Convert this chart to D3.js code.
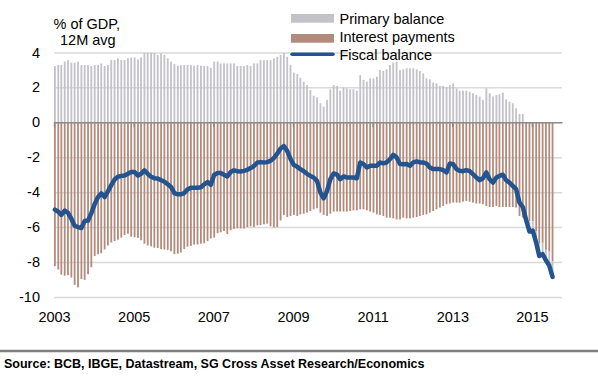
<!DOCTYPE html>
<html>
<head>
<meta charset="utf-8">
<script src="https://cdn.jsdelivr.net/npm/d3@7"></script>
<style>
  body { margin: 0; background: #fff; }
  svg text { font-family: "Liberation Sans", Arial, sans-serif; fill: #000; }
</style>
</head>
<body>
<div id="chart"></div>
<script>

// 12M rolling, % of GDP, monthly Jan 2003 .. Jul 2015
var primary = [
    3.22, 3.28, 3.28, 3.47, 3.56, 3.41, 3.41, 3.47, 3.28, 3.28, 3.28, 3.22,
    3.28, 3.28, 3.37, 3.22, 3.28, 3.56, 3.56, 3.66, 3.56, 3.56, 3.66, 3.71,
    3.71, 3.6, 3.71, 3.98, 3.98, 3.98, 3.98, 3.85, 3.94, 3.85, 3.66, 3.47,
    3.33, 3.24, 3.28, 3.28, 3.28, 3.28, 3.24, 3.28, 3.24, 3.22, 3.22, 3.12,
    3.47, 3.47, 3.37, 3.37, 3.37, 3.37, 3.37, 3.22, 3.22, 3.22, 3.28, 3.22,
    3.37, 3.37, 3.56, 3.56, 3.56, 3.56, 3.66, 3.75, 3.85, 3.98, 3.75, 3.28,
    2.84, 2.76, 2.55, 2.32, 2.13, 1.85, 1.52, 1.43, 1.09, 0.9, 1.28, 1.89,
    2.13, 2.08, 1.81, 2.0, 1.94, 1.89, 1.89, 1.81, 2.7, 2.42, 2.32, 2.51,
    2.51, 2.61, 2.99, 2.95, 3.03, 3.28, 3.41, 3.47, 2.99, 3.03, 3.09, 3.09,
    3.09, 3.03, 2.93, 2.8, 2.51, 2.46, 2.27, 2.23, 2.08, 2.08, 2.0, 2.13,
    2.23, 1.94, 1.81, 1.81, 1.81, 1.75, 1.66, 1.56, 1.47, 1.28, 1.94, 1.66,
    1.47, 1.56, 1.6, 1.7, 1.31, 1.18, 1.09, 0.8, 0.48, 0.48, -0.2, -0.6,
    -0.55, -0.65, -0.7, -0.65, -0.6, -0.8, -0.9
];

var interest = [
    -8.24, -8.43, -8.72, -8.78, -8.75, -8.88, -9.3, -9.45, -8.97, -9.02, -8.7, -8.3,
    -7.65, -7.55, -7.5, -7.28, -7.05, -6.88, -6.8, -6.72, -6.6, -6.45, -6.38, -6.55,
    -6.58, -6.62, -6.75, -6.95, -7.05, -7.1, -7.18, -7.2, -7.26, -7.28, -7.3, -7.38,
    -7.55, -7.52, -7.45, -7.25, -7.12, -7.08, -7.0, -6.99, -6.95, -6.92, -6.8, -6.65,
    -6.6, -6.35, -6.3, -6.22, -6.4, -6.18, -6.1, -6.07, -6.07, -6.08, -6.0, -5.96,
    -6.0, -5.9, -5.88, -5.84, -5.8, -5.95, -6.02, -6.0, -5.62, -5.3, -5.42, -5.36,
    -5.3, -5.36, -5.27, -5.23, -5.17, -5.08, -4.98, -4.92, -5.17, -5.3, -5.36, -5.23,
    -5.11, -5.11, -5.11, -5.11, -5.11, -5.08, -5.04, -5.04, -4.98, -4.98, -5.04, -5.11,
    -5.17, -5.27, -5.3, -5.36, -5.46, -5.46, -5.5, -5.56, -5.56, -5.46, -5.5, -5.5,
    -5.46, -5.42, -5.36, -5.3, -5.27, -5.17, -5.08, -4.98, -4.88, -4.79, -4.69, -4.65,
    -4.6, -4.6, -4.6, -4.54, -4.5, -4.54, -4.6, -4.65, -4.65, -4.69, -4.79, -4.85,
    -4.85, -4.79, -4.85, -4.85, -4.85, -4.85, -4.85, -4.88, -5.36, -5.46, -5.4, -5.65,
    -5.65, -6.25, -6.95, -6.9, -7.3, -7.4, -7.95
];

var fiscal = [
    -5.0, -5.12, -5.3, -5.05, -5.18, -5.52, -5.92, -6.0, -6.05, -5.65, -5.62, -5.2,
    -4.68, -4.28, -4.07, -4.28, -3.95, -3.6, -3.28, -3.12, -3.07, -3.05, -2.95, -2.85,
    -2.85, -3.05, -2.95, -2.75, -2.95, -3.12, -3.2, -3.22, -3.32, -3.4, -3.55, -3.7,
    -4.05, -4.12, -4.12, -4.05, -3.85, -3.75, -3.75, -3.75, -3.72, -3.55, -3.42, -3.58,
    -3.0, -2.9, -2.9, -3.0, -3.1, -2.85, -2.75, -2.8, -2.82, -2.78, -2.72, -2.62,
    -2.5, -2.3, -2.28, -2.3, -2.28, -2.2, -2.05, -1.8, -1.5, -1.36, -1.65, -2.1,
    -2.45, -2.55, -2.68, -2.8, -2.95, -3.07, -3.16, -3.35, -4.02, -4.35, -3.93, -3.26,
    -2.93, -3.0, -3.26, -3.1, -3.16, -3.16, -3.16, -3.2, -2.3, -2.39, -2.59, -2.49,
    -2.49, -2.49, -2.3, -2.35, -2.3, -2.11, -1.86, -2.01, -2.39, -2.4, -2.39, -2.49,
    -2.3, -2.24, -2.3, -2.3, -2.36, -2.59, -2.68, -2.68, -2.68, -2.74, -2.87, -2.36,
    -2.4, -2.68, -2.78, -2.8, -2.74, -2.8, -2.97, -3.16, -3.31, -3.2, -2.87, -3.26,
    -3.45, -3.16, -3.07, -3.0, -3.31, -3.45, -3.64, -3.83, -4.6, -4.85, -5.6, -6.25,
    -6.2, -6.9, -7.65, -7.55, -7.9, -8.2, -8.85
];

var months = d3.timeMonth.range(new Date(2003, 0, 1), new Date(2015, 7, 1));
var yTicks = [-10, -8, -6, -4, -2, 0, 2, 4];
var yearTicks = [2003, 2005, 2007, 2009, 2011, 2013, 2015];
var legendLabels = ["Primary balance", "Interest payments", "Fiscal balance"];
var source = "Source: BCB, IBGE, Datastream, SG Cross Asset Research/Economics";

var data = months.map(function (d, i) {
    return { date: d, primary: primary[i], interest: interest[i], fiscal: fiscal[i] };
});
var yearDates = yearTicks.map(yr => new Date(yr, 0, 1));

var W = 598, H = 380;
var plotL = 54, plotR = 562, plotT = 52.4, plotB = 297;

var greyCol = "#c2c2c8", brownCol = "#b28b7c", blueCol = "#24548f";

var svg = d3.select("#chart").append("svg")
    .attr("width", W)
    .attr("height", H);

var x = d3.scaleTime()
    .domain([new Date(2003, 0, 1), new Date(2015, 9, 4)])
    .range([plotL, plotR]);

var y = d3.scaleLinear()
    .domain([-10, 4])
    .range([plotB, plotT]);

// gridlines + y labels
var yAxis = svg.append("g")
    .attr("transform", `translate(${plotL},0)`)
    .call(d3.axisLeft(y).tickValues(yTicks).tickSize(-(plotR - plotL)).tickPadding(14).tickFormat(d => String(d)));
yAxis.select(".domain").remove();
yAxis.selectAll("line")
    .attr("stroke", "#d9d9d9")
    .attr("stroke-width", 1.5);
yAxis.selectAll("text").attr("font-size", "14.5px").attr("font-family", null);

var bw = 1.8;

// interest payments
svg.append("g").selectAll("rect")
    .data(data)
    .enter().append("rect")
    .attr("x", d => x(d.date))
    .attr("width", bw)
    .attr("y", y(0))
    .attr("height", d => y(d.interest) - y(0))
    .attr("fill", brownCol);

// primary balance (stacked under interest once negative)
svg.append("g").selectAll("rect")
    .data(data)
    .enter().append("rect")
    .attr("x", d => x(d.date))
    .attr("width", bw)
    .attr("y", d => d.primary >= 0 ? y(d.primary) : y(d.interest))
    .attr("height", d => d.primary >= 0 ? y(0) - y(d.primary) : y(d.interest + d.primary) - y(d.interest))
    .attr("fill", greyCol);

// zero line with year ticks
var zeroAxis = svg.append("g")
    .attr("transform", `translate(0,${y(0)})`)
    .call(d3.axisBottom(x).tickValues(yearDates).tickSizeInner(5).tickSizeOuter(0).tickFormat(""));
zeroAxis.selectAll("line, path").attr("stroke", "#8c8c8c").attr("stroke-width", 1.5);

// year labels
var xAxis = svg.append("g")
    .attr("transform", `translate(0,${plotB})`)
    .call(d3.axisBottom(x).tickValues(yearDates).tickSize(0).tickPadding(14.7).tickFormat(d3.timeFormat("%Y")));
xAxis.select(".domain").remove();
xAxis.selectAll("text").attr("font-size", "14.5px").attr("font-family", null);

// fiscal balance
var line = d3.line()
    .x(d => x(d.date) + bw / 2)
    .y(d => y(d.fiscal));

svg.append("path")
    .datum(data)
    .attr("d", line)
    .attr("fill", "none")
    .attr("stroke", blueCol)
    .attr("stroke-width", 4.5)
    .attr("stroke-linejoin", "round")
    .attr("stroke-linecap", "round");

// axis title
svg.append("text").attr("x", 53.5).attr("y", 29).attr("font-size", "14.5px").text("% of GDP,");
svg.append("text").attr("x", 60).attr("y", 45).attr("font-size", "14.5px").text("12M avg");

// legend
var lg = svg.append("g");
lg.append("rect").attr("x", 291).attr("y", 14).attr("width", 43).attr("height", 8.7).attr("fill", greyCol);
lg.append("rect").attr("x", 291).attr("y", 34).attr("width", 43).attr("height", 8.7).attr("fill", brownCol);
lg.append("line").attr("x1", 292).attr("x2", 333).attr("y1", 54.3).attr("y2", 54.3)
    .attr("stroke", blueCol).attr("stroke-width", 3.5).attr("stroke-linecap", "round");
lg.selectAll("text")
    .data(legendLabels)
    .enter().append("text")
    .attr("x", 339.5)
    .attr("y", (d, i) => 23.5 + i * 18.3)
    .attr("font-size", "14.5px")
    .text(d => d);

// source
svg.append("line")
    .attr("x1", 0).attr("x2", W)
    .attr("y1", 351).attr("y2", 351)
    .attr("stroke", "#7f7f7f")
    .attr("stroke-width", 2.5);
svg.append("text")
    .attr("x", 4)
    .attr("y", 368)
    .attr("font-size", "12.5px")
    .attr("font-weight", "bold")
    .text(source);

</script>
</body>
</html>
